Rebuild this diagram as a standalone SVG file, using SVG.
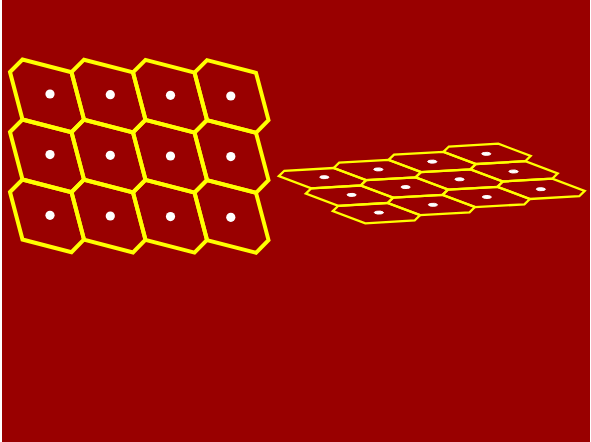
<svg xmlns="http://www.w3.org/2000/svg" xmlns:xlink="http://www.w3.org/1999/xlink" width="591" height="442" viewBox="0 0 591 442">
  <style>
    .grid { fill: none; stroke: #ffff00; stroke-linejoin: miter; }
    .big { stroke-width: 4; }
    .small { stroke-width: 2.3; }
    .dot { fill: #ffffff; }
    .dot-small { fill: #ffffff; stroke: #ffffff; stroke-width: 1; }
  </style>
  <defs>
    <polygon id="cell" points="0,0 12.5,-12.5 61.5,0.2 74,47.5 61.5,60.2 12.5,47.5" vector-effect="non-scaling-stroke"/>
    <g id="cells">
      <use href="#cell" x="10" y="72"/>
      <use href="#cell" x="71.5" y="72.2"/>
      <use href="#cell" x="133" y="72.4"/>
      <use href="#cell" x="194.5" y="72.6"/>
      <use href="#cell" x="10" y="132"/>
      <use href="#cell" x="71.5" y="132.2"/>
      <use href="#cell" x="133" y="132.4"/>
      <use href="#cell" x="194.5" y="132.6"/>
      <use href="#cell" x="10" y="192"/>
      <use href="#cell" x="71.5" y="192.2"/>
      <use href="#cell" x="133" y="192.4"/>
      <use href="#cell" x="194.5" y="192.6"/>
    </g>
    <g id="dots">
      <circle cx="50" cy="94" r="4.6" vector-effect="non-scaling-stroke"/>
      <circle cx="110.3" cy="94.7" r="4.6" vector-effect="non-scaling-stroke"/>
      <circle cx="170.5" cy="95.3" r="4.6" vector-effect="non-scaling-stroke"/>
      <circle cx="230.8" cy="96" r="4.6" vector-effect="non-scaling-stroke"/>
      <circle cx="50" cy="154.6" r="4.6" vector-effect="non-scaling-stroke"/>
      <circle cx="110.3" cy="155.3" r="4.6" vector-effect="non-scaling-stroke"/>
      <circle cx="170.5" cy="156" r="4.6" vector-effect="non-scaling-stroke"/>
      <circle cx="230.8" cy="156.6" r="4.6" vector-effect="non-scaling-stroke"/>
      <circle cx="50" cy="215.3" r="4.6" vector-effect="non-scaling-stroke"/>
      <circle cx="110.3" cy="216" r="4.6" vector-effect="non-scaling-stroke"/>
      <circle cx="170.5" cy="216.6" r="4.6" vector-effect="non-scaling-stroke"/>
      <circle cx="230.8" cy="217.3" r="4.6" vector-effect="non-scaling-stroke"/>
    </g>
  </defs>
  <rect x="2" y="0" width="588" height="442" fill="#990000"/>
  <g id="flat-grid">
    <use href="#cells" class="grid big"/>
    <use href="#dots" class="dot"/>
  </g>
  <g id="tilted-grid" transform="matrix(0.8907,-0.1325,0.45,0.2917,237.5,156.4)">
    <use href="#cells" class="grid small"/>
    <use href="#dots" class="dot-small"/>
  </g>
</svg>
